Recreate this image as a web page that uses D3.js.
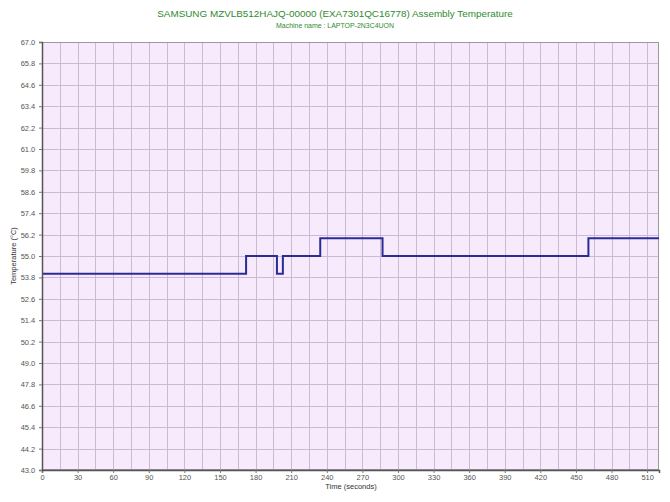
<!DOCTYPE html>
<html><head><meta charset="utf-8">
<script src="https://cdn.jsdelivr.net/npm/d3@7"></script>
<style>body{margin:0;background:#fff}svg{display:block}</style>
</head><body>
<svg id="c" width="670" height="502"></svg>
<script>
const titleText = "SAMSUNG MZVLB512HAJQ-00000 (EXA7301QC16778) Assembly Temperature";
const subtitleText = "Machine name : LAPTOP-2N3C4UON";
const xLabel = "Time (seconds)";
const yLabel = "Temperature (°C)";
const times = [0, 172, 198, 203, 234.5, 287, 460.5, 520];
const temps = [54, 55, 54, 55, 56, 55, 56, 56];
const xTickValues = d3.range(0, 511, 30);
const yTickValues = [43.0,44.2,45.4,46.6,47.8,49.0,50.2,51.4,52.6,53.8,55.0,56.2,57.4,58.6,59.8,61.0,62.2,63.4,64.6,65.8,67.0];
const xGridValues = d3.range(0, 520, 15);

const L = 42, T = 42, R = 659, B = 470;
const svg = d3.select("#c");
const x = d3.scaleLinear().domain([0, 520]).range([L, R]);
const y = d3.scaleLinear().domain([43, 67]).range([B, T]);

svg.append("rect").attr("x", L).attr("y", T).attr("width", R - L).attr("height", B - T).attr("fill", "#f6eafc");

const grid = svg.append("g").attr("stroke", "#cbbad2").attr("stroke-width", 1);
grid.selectAll("line.v").data(xGridValues.slice(1)).join("line")
  .attr("x1", d => Math.round(x(d)) + 0.5).attr("x2", d => Math.round(x(d)) + 0.5)
  .attr("y1", T).attr("y2", B);
grid.selectAll("line.h").data(yTickValues.slice(1, -1)).join("line")
  .attr("y1", d => Math.round(y(d)) + 0.5).attr("y2", d => Math.round(y(d)) + 0.5)
  .attr("x1", L).attr("x2", R);

svg.append("rect").attr("x", L + 0.5).attr("y", T + 0.5).attr("width", R - L - 1).attr("height", B - T - 1)
  .attr("fill", "none").attr("stroke", "#9a9a9a");

const line = d3.line().x((d, i) => x(times[i])).y(d => y(d)).curve(d3.curveStepAfter);
svg.append("path").datum(temps).attr("d", line).attr("fill", "none")
  .attr("stroke", "#2b2b96").attr("stroke-width", 2);

const font = "Liberation Sans, Arial, sans-serif";
const xAxis = d3.axisBottom(x).tickValues(xTickValues).tickSize(3).tickPadding(2).tickFormat(d3.format("d"));
const gx = svg.append("g").attr("transform", `translate(0,${B})`).call(xAxis);
const yAxis = d3.axisLeft(y).tickValues(yTickValues).tickSize(3).tickFormat(d3.format(".1f"));
const gy = svg.append("g").attr("transform", `translate(${L},0)`).call(yAxis);
[gx, gy].forEach(g => {
  g.select(".domain").attr("stroke", "#555").attr("stroke-width", 1.5);
  g.selectAll(".tick line").attr("stroke", "#777");
  g.selectAll("text").attr("fill", "#555").attr("font-size", "7.5px").attr("font-family", font);
});
gx.selectAll("text").attr("dy", "0.6em");
gy.selectAll("text").attr("dx", "-0.1em");

function fitText(sel, w) {
  const n = sel.node();
  const fs = parseFloat(sel.attr("font-size"));
  const cur = n.getComputedTextLength();
  sel.attr("font-size", (fs * w / cur).toFixed(2) + "px");
}
const t1 = svg.append("text").attr("x", 335).attr("y", 17).attr("text-anchor", "middle")
  .attr("font-family", font).attr("font-size", "11px").attr("fill", "#2f8a2f").text(titleText);
fitText(t1, 356);
const t2 = svg.append("text").attr("x", 335).attr("y", 27.5).attr("text-anchor", "middle")
  .attr("font-family", font).attr("font-size", "8px").attr("fill", "#2f8a2f").text(subtitleText);
fitText(t2, 118);
svg.append("text").attr("x", 351).attr("y", 489).attr("text-anchor", "middle")
  .attr("font-family", font).attr("font-size", "7.5px").attr("fill", "#333").text(xLabel);
svg.append("text").attr("transform", `translate(16,${(T + B) / 2}) rotate(-90)`).attr("text-anchor", "middle")
  .attr("font-family", font).attr("font-size", "7.5px").attr("fill", "#333").text(yLabel);
</script>
</body></html>
